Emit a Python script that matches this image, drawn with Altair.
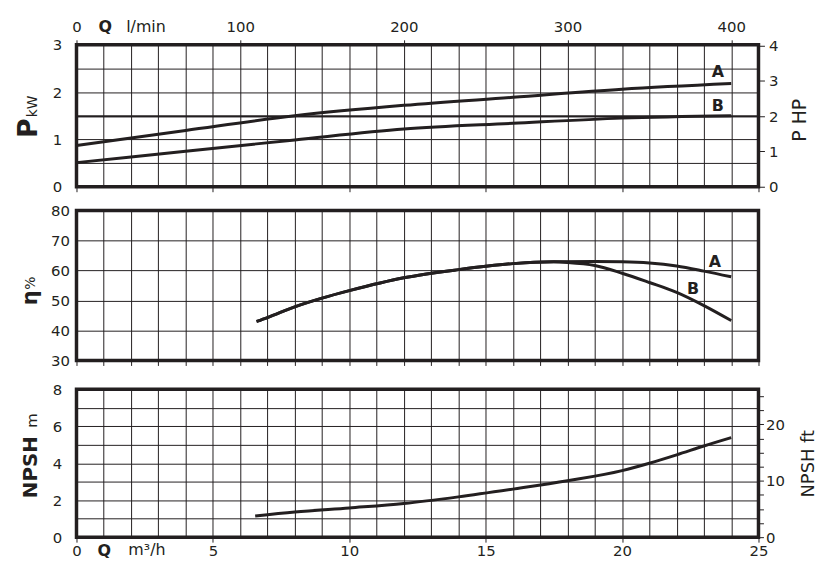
import altair as alt
import pandas as pd

# ---------------- data ----------------
# Power curves (kW) vs Q (m3/h)
Q_P = [0, 4, 8, 12, 16, 20, 24]
P_A = [0.87, 1.19, 1.50, 1.72, 1.89, 2.06, 2.18]
P_B = [0.51, 0.75, 0.99, 1.22, 1.34, 1.45, 1.50]
HP_RULE = [2]

# Efficiency curves (%)
Q_ETA_COMMON = [6.6, 7, 8, 9, 10, 12, 14, 16, 17.5]
ETA_COMMON = [43.0, 44.3, 47.9, 50.8, 53.3, 57.6, 60.3, 62.3, 62.9]
Q_ETA_A = [19, 20, 21, 22, 23, 24]
ETA_A = [63.0, 62.9, 62.5, 61.5, 59.8, 57.9]
Q_ETA_B = [18, 19, 20, 21, 22, 23, 24]
ETA_B = [62.7, 61.7, 59.1, 56.0, 52.7, 48.3, 43.3]

# NPSH curve (m)
Q_N = [6.55, 8, 10, 12, 14, 16, 18, 20, 21, 22, 23, 24]
NPSH = [1.14, 1.36, 1.58, 1.82, 2.18, 2.6, 3.05, 3.6, 4.0, 4.45, 4.93, 5.38]

# axis ticks / labels
X_GRID = list(range(0, 26))
X_LABELS = [0, 5, 10, 15, 20, 25]
LMIN_LABELS = [0, 100, 200, 300, 400]
P_KW_TICKS = [0, 0.5, 1, 1.5, 2, 2.5, 3]
HP_TICKS = [0, 1, 2, 3, 4]
ETA_TICKS = [30, 40, 50, 60, 70, 80]
NPSH_M_TICKS = [0, 1, 2, 3, 4, 5, 6, 7, 8]
NPSH_FT_TICKS = [0, 2.5, 5, 7.5, 10, 12.5, 15, 17.5, 20, 22.5, 25]

KW_PER_HP = 0.7457
M_PER_FT = 0.3048

INK = "#231f20"
FONT = "DejaVu Sans"
W = 687
XS = alt.Scale(domain=[0, 25], nice=False, zero=False)


def txt(t, x, y, size, bold=False, angle=0, baseline="middle", align="center"):
    return alt.Chart(pd.DataFrame({"t": [t]})).mark_text(
        font=FONT, fontSize=size, fontWeight="bold" if bold else "normal",
        angle=angle, baseline=baseline, align=align, color=INK
    ).encode(x=alt.value(x), y=alt.value(y), text="t:N")


def grid_x_axis(ticks=False):
    return alt.Axis(orient="bottom", values=X_GRID, grid=True, ticks=ticks, tickSize=5,
                    labels=False, domain=False, title=None)


def spacer(h):
    return alt.Chart(pd.DataFrame({"s": [0]})).mark_point(opacity=0).properties(
        width=W, height=h, view=alt.ViewBackground(stroke="transparent"))


# ---------------- top panel : power ----------------
dfA = pd.DataFrame({"Q": Q_P, "P": P_A})
dfB = pd.DataFrame({"Q": Q_P, "P": P_B})
kw_scale = alt.Scale(domain=[0, 3], nice=False, zero=False)

topA = alt.Chart(dfA).mark_line(color=INK, strokeWidth=3, interpolate="monotone").encode(
    x=alt.X("Q:Q", scale=XS, axis=grid_x_axis()),
    y=alt.Y("P:Q", scale=kw_scale, axis=alt.Axis(
        values=P_KW_TICKS, grid=True, ticks=False, domain=False, title=None,
        labelExpr="datum.value % 1 == 0 ? format(datum.value, 'd') : ''", labelPadding=15)),
)
topB = alt.Chart(dfB).mark_line(color=INK, strokeWidth=3, interpolate="monotone").encode(
    x=alt.X("Q:Q", scale=XS, axis=alt.Axis(orient="bottom", values=X_LABELS, grid=False,
                                            ticks=True, tickSize=5, labels=False,
                                            domain=False, title=None)),
    y=alt.Y("P:Q", scale=kw_scale, axis=None),
)
hp_rule = alt.Chart(pd.DataFrame({"hp": HP_RULE})).mark_rule(color=INK, strokeWidth=2).encode(
    y=alt.Y("hp:Q", scale=alt.Scale(domain=[0, 3 / KW_PER_HP], nice=False, zero=False),
            axis=alt.Axis(orient="right", values=HP_TICKS, grid=False, ticks=True, tickSize=6,
                          labelPadding=4, domain=False, title=None))
)
lmin_axis = alt.Chart(pd.DataFrame({"lmin": LMIN_LABELS})).mark_point(opacity=0).encode(
    x=alt.X("lmin:Q", scale=alt.Scale(domain=[0, 25000 / 60], nice=False, zero=False),
            axis=alt.Axis(orient="top", values=LMIN_LABELS, grid=False, ticks=True, tickSize=5,
                          labelPadding=5, domain=False, title=None))
)
top = alt.layer(
    topA, topB, hp_rule, lmin_axis,
    txt("P", -40, 84, 27, bold=True, angle=270, baseline="alphabetic"),
    txt("kW", -40, 62, 14, angle=270, baseline="alphabetic"),
    txt("P HP", 735, 76, 19, angle=270, baseline="alphabetic"),
    txt("A", 646, 27, 16, bold=True),
    txt("B", 646, 62, 16, bold=True),
    txt("Q", 29, -18, 16, bold=True),
    txt("l/min", 70, -18, 16),
).resolve_scale(x="independent", y="independent").resolve_axis(
    x="independent", y="independent").properties(width=W, height=143)

# ---------------- middle panel : efficiency ----------------
eA = pd.DataFrame({"Q": Q_ETA_COMMON + Q_ETA_A, "E": ETA_COMMON + ETA_A})
eB = pd.DataFrame({"Q": Q_ETA_COMMON + Q_ETA_B, "E": ETA_COMMON + ETA_B})
eta_scale = alt.Scale(domain=[30, 80], nice=False, zero=False)

midA = alt.Chart(eA).mark_line(color=INK, strokeWidth=3, interpolate="monotone").encode(
    x=alt.X("Q:Q", scale=XS, axis=grid_x_axis(ticks=True)),
    y=alt.Y("E:Q", scale=eta_scale, axis=alt.Axis(
        values=ETA_TICKS, grid=True, ticks=False, domain=False, title=None, labelPadding=7)),
)
midB = alt.Chart(eB).mark_line(color=INK, strokeWidth=3, interpolate="monotone").encode(
    x=alt.X("Q:Q", scale=XS, axis=None),
    y=alt.Y("E:Q", scale=eta_scale, axis=None),
)
mid = alt.layer(
    midA, midB,
    txt("η", -45.8, 88, 21, bold=True, angle=270),
    txt("%", -45.8, 73, 14, angle=270),
    txt("A", 643, 52, 16, bold=True),
    txt("B", 621, 79, 16, bold=True),
).resolve_scale(x="independent", y="independent").resolve_axis(
    x="independent", y="independent").properties(width=W, height=151)

# ---------------- bottom panel : NPSH ----------------
nd = pd.DataFrame({"Q": Q_N, "N": NPSH})
m_scale = alt.Scale(domain=[0, 8], nice=False, zero=False)

botN = alt.Chart(nd).mark_line(color=INK, strokeWidth=3, interpolate="monotone").encode(
    x=alt.X("Q:Q", scale=XS, axis=grid_x_axis()),
    y=alt.Y("N:Q", scale=m_scale, axis=alt.Axis(
        values=NPSH_M_TICKS, grid=True, ticks=False, domain=False, title=None,
        labelExpr="datum.value % 2 == 0 ? format(datum.value, 'd') : ''", labelPadding=15)),
)
q_axis = alt.Chart(pd.DataFrame({"q": X_LABELS})).mark_point(opacity=0).encode(
    x=alt.X("q:Q", scale=XS, axis=alt.Axis(orient="bottom", values=X_LABELS, grid=False,
                                            ticks=True, tickSize=5, labelPadding=1,
                                            domain=False, title=None))
)
ft_axis = alt.Chart(pd.DataFrame({"ft": NPSH_FT_TICKS})).mark_point(opacity=0).encode(
    y=alt.Y("ft:Q", scale=alt.Scale(domain=[0, 8 / M_PER_FT], nice=False, zero=False),
            axis=alt.Axis(orient="right", values=NPSH_FT_TICKS, grid=False, ticks=True,
                          tickSize=5, labelPadding=2, domain=False, title=None,
                          labelExpr="datum.value % 10 == 0 ? format(datum.value, 'd') : ''"))
)
bot = alt.layer(
    botN, q_axis, ft_axis,
    txt("NPSH", -40, 78.5, 20, bold=True, angle=270, baseline="alphabetic"),
    txt("m", -40, 31.5, 15, angle=270, baseline="alphabetic"),
    txt("NPSH ft", 743, 75, 18, angle=270, baseline="alphabetic"),
    txt("Q", 28, 163, 16, bold=True),
    txt("m³/h", 71, 162, 16),
).resolve_scale(x="independent", y="independent").resolve_axis(
    x="independent", y="independent").properties(width=W, height=149)

# spacing 5 + spacer heights give gaps of 24 and 29 between the plot frames
chart = alt.vconcat(
    top, spacer(14), mid, spacer(19), bot, spacing=5, bounds="flush",
).configure_view(
    stroke=INK, strokeWidth=3.5
).configure_axis(
    labelFont=FONT, labelFontSize=15, labelColor=INK, gridColor=INK, gridOpacity=1,
    gridWidth=1, tickColor=INK, tickWidth=1, domain=False, labelFlush=False,
).properties(padding={"left": 5, "top": 7, "right": 5, "bottom": 5}, background="white")

chart.save("out.html", embed_options={"renderer": "svg", "actions": False})
